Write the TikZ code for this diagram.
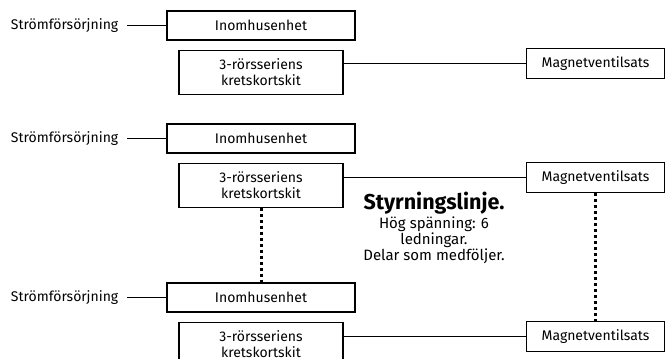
\documentclass[tikz,border=0pt]{standalone}
\usepackage{fontspec}
\setmainfont{Fira Sans}
\usepackage{tikz}
\usetikzlibrary{positioning}

\begin{document}
\begin{tikzpicture}[x=1pt,y=-1pt,node distance=9pt]
\tikzstyle{unit}=[draw=black,line width=1.1pt,minimum width=188pt,minimum height=29pt,inner sep=0pt,font=\fontsize{14}{16}\selectfont]
\tikzstyle{kit}=[unit,minimum width=164pt,minimum height=44pt,align=center]
\tikzstyle{valve}=[unit,minimum width=138pt,minimum height=30pt]
\tikzstyle{supply}=[inner xsep=9pt,inner ysep=0pt,font=\fontsize{14}{16}\selectfont]
\tikzstyle{wire}=[line width=1pt]
\tikzstyle{signal}=[line width=3pt,dash pattern=on 3pt off 3pt]
\useasboundingbox (0,0) rectangle (665,359);
\clip (0,0) rectangle (665,359);

% upper set
\node[unit] (I1) at (261,25.5) {Inomhusenhet};
\node[kit,below=of I1] (K1) {3-rörsseriens\\kretskortskit};
\node[valve,anchor=north west] (M1) at (526,48) {Magnetventilsats};
\node[supply,left=39pt of I1] (S1) {Strömförsörjning};
\draw[wire] (S1.east) -- (I1.west);
\draw[wire] (K1.east |- M1.west) -- (M1.west);

% middle set
\node[unit] (I2) at (261,138.5) {Inomhusenhet};
\node[kit,below=of I2] (K2) {3-rörsseriens\\kretskortskit};
\node[valve,anchor=north west] (M2) at (526,162) {Magnetventilsats};
\node[supply,left=39pt of I2] (S2) {Strömförsörjning};
\draw[wire] (S2.east) -- (I2.west);
\draw[wire] (K2.east |- M2.west) -- (M2.west);

% lower set
\node[unit] (I3) at (261,297.5) {Inomhusenhet};
\node[kit,below=of I3] (K3) {3-rörsseriens\\kretskortskit};
\node[valve,anchor=north west] (M3) at (526,321) {Magnetventilsats};
\node[supply,left=39pt of I3] (S3) {Strömförsörjning};
\draw[wire] (S3.east) -- (I3.west);
\draw[wire] (K3.east |- M3.west) -- (M3.west);

% control line
\draw[signal] (K2.south) -- (I3.north);
\draw[signal] (M2.south) -- (M3.north);
\node[align=center,anchor=north,inner sep=0pt,font=\fontsize{15}{16}\selectfont] (note) at (434,192)
  {{\fontsize{21.5}{22}\selectfont\bfseries Styrningslinje.}\\[1pt]
   Hög spänning: 6\\ ledningar.\\ Delar som medföljer.};
\end{tikzpicture}
\end{document}
